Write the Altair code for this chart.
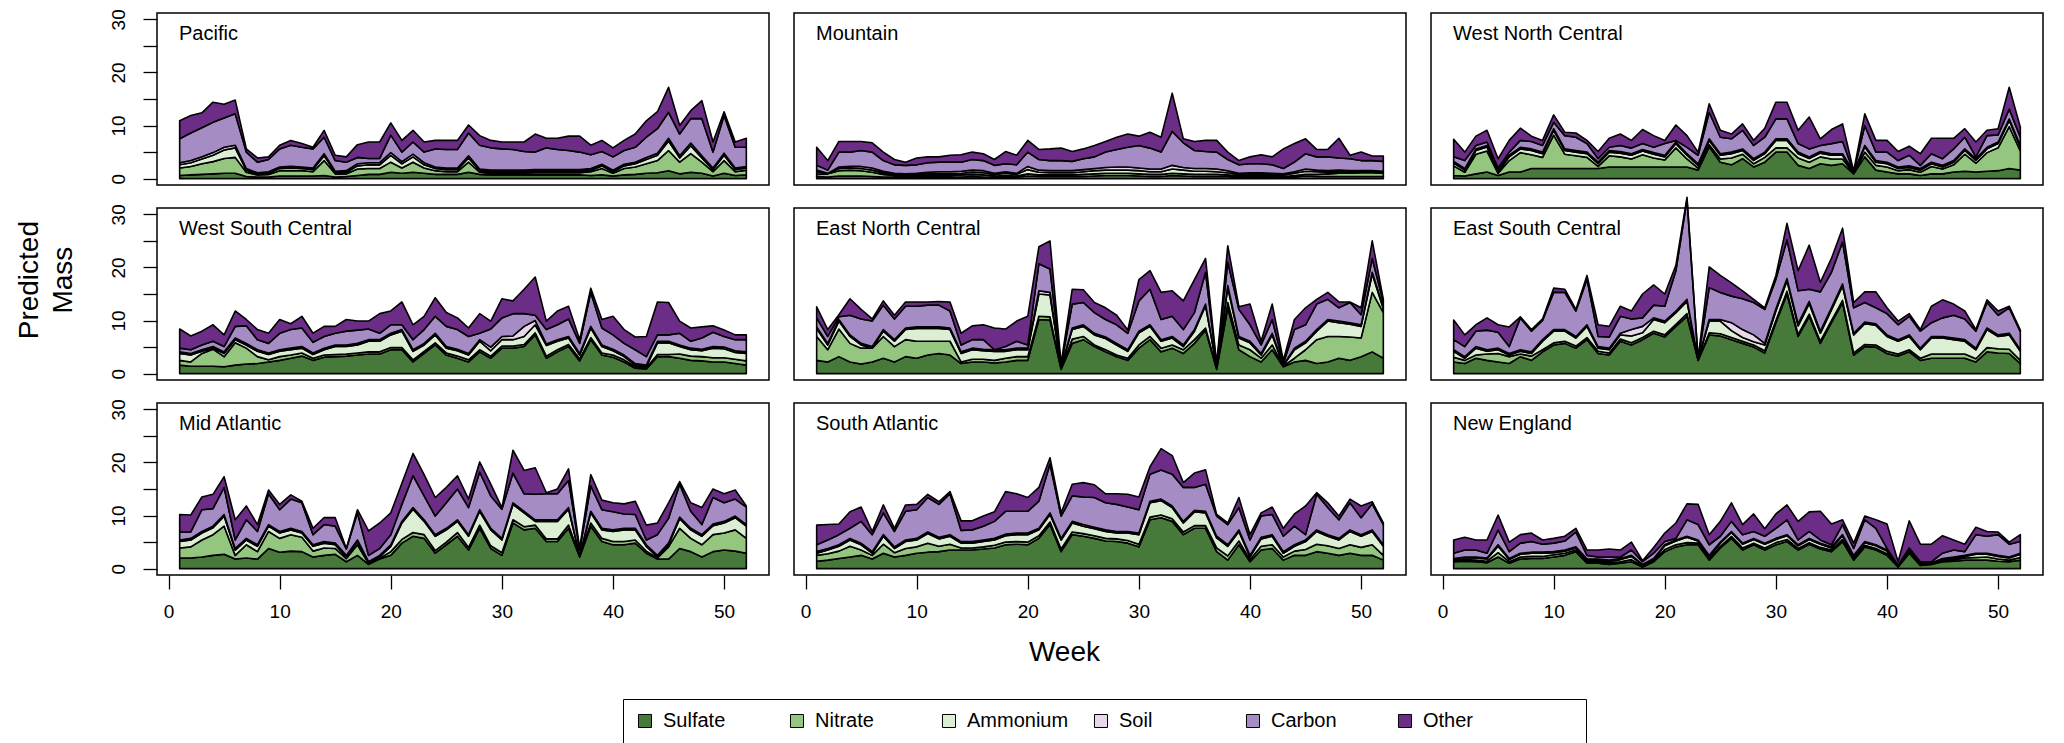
import altair as alt
import pandas as pd

REGIONS = ["Pacific", "Mountain", "West North Central",
           "West South Central", "East North Central", "East South Central",
           "Mid Atlantic", "South Atlantic", "New England"]
COMPONENTS = ["Sulfate", "Nitrate", "Ammonium", "Soil", "Carbon", "Other"]
COLORS = ["#477a3a", "#95c680", "#dcefd4", "#e8d7ea", "#a68cc4", "#6b2d86"]
WEEKS = list(range(1, 53))
X_TICKS = [0, 10, 20, 30, 40, 50]
Y_TICKS = [0, 5, 10, 15, 20, 25, 30]

# Cumulative stack levels (top edge of each layer).
SULFATE_TOP = {
    "Pacific": [0.6,0.7,0.8,0.9,1.0,1.0,0.4,0.3,0.3,0.5,0.5,0.5,0.5,
                0.6,0.3,0.4,0.6,0.8,0.8,1.2,1.0,1.2,1.0,0.8,0.8,0.8,
                1.2,0.8,0.7,0.7,0.7,0.7,0.7,0.7,0.7,0.7,0.7,0.6,0.7,
                0.5,0.7,0.8,1.0,1.1,1.5,0.9,1.2,1.0,0.5,1.0,0.6,0.7],
    "Mountain": [0.4,0.3,0.5,0.5,0.5,0.4,0.3,0.3,0.2,0.3,0.3,0.3,0.3,
                 0.3,0.4,0.3,0.2,0.3,0.3,0.5,0.4,0.4,0.4,0.4,0.4,0.5,
                 0.6,0.6,0.6,0.5,0.4,0.4,0.6,0.5,0.4,0.4,0.4,0.4,0.2,
                 0.3,0.3,0.3,0.2,0.3,0.5,0.4,0.4,0.4,0.4,0.4,0.4,0.4],
    "West North Central": [0.6,0.5,0.9,1.25,0.6,1.25,1.25,1.9,1.9,1.9,1.9,1.9,1.9,
                           1.9,2.2,2.2,2.2,2.2,2.2,2.2,2.2,2.2,1.6,6.0,3.1,2.6,
                           3.75,2.2,3.1,5.0,5.0,2.5,1.9,2.8,2.5,2.8,0.9,4.1,1.6,
                           1.25,0.9,0.9,0.6,0.9,0.9,1.25,1.4,1.25,1.4,1.5,1.9,1.6],
    "West South Central": [1.6,1.4,1.4,1.4,1.3,1.6,1.8,1.9,2.2,2.5,2.9,3.3,2.5,
                           3.1,3.2,3.3,3.5,3.7,3.7,4.5,4.5,2.2,3.8,5.4,3.5,2.9,
                           2.2,4.1,2.9,4.8,4.8,5.1,7.3,2.9,4.1,5.1,2.4,6.4,3.5,
                           3.1,2.2,1.0,0.9,3.2,3.2,2.9,2.5,2.4,2.2,2.2,1.9,1.6],
    "East North Central": [2.5,2.2,3.2,2.2,1.8,2.2,2.9,2.2,3.2,2.9,3.5,3.8,3.5,
                           1.9,2.2,2.2,2.0,2.2,2.5,2.5,10.2,10.1,0.8,5.7,6.4,5.1,
                           4.1,3.2,2.5,4.8,6.4,4.1,4.8,3.8,5.7,8.2,0.8,12.4,4.5,
                           3.2,2.2,4.5,1.3,2.2,2.5,1.9,2.2,2.9,2.5,3.2,4.1,2.9],
    "East South Central": [2.2,1.9,2.9,2.5,2.2,1.9,3.2,2.5,4.1,5.4,5.7,4.8,6.4,
                           3.8,3.5,6.1,5.4,6.4,7.6,6.9,8.9,10.8,2.5,7.3,7.1,6.4,
                           5.7,5.0,3.9,9.6,15.0,7.0,10.8,5.7,9.6,13.4,3.5,5.1,5.0,
                           3.8,3.3,4.1,2.5,2.9,2.9,2.9,2.9,2.2,4.1,3.9,3.8,1.9],
    "Mid Atlantic": [2.0,2.0,2.2,2.5,2.7,1.8,2.0,1.8,3.8,3.1,3.3,3.2,2.2,
                     2.5,2.7,1.3,2.5,0.8,1.8,2.5,4.8,6.1,5.7,2.9,4.5,6.1,
                     3.5,7.6,3.8,2.5,8.6,7.3,7.6,5.1,5.1,7.6,2.2,8.0,5.1,
                     4.5,4.5,4.8,2.9,1.8,1.8,3.8,3.2,2.2,3.2,3.5,3.3,2.9],
    "South Atlantic": [1.4,1.6,1.9,2.2,2.5,1.8,2.9,2.2,2.5,2.9,3.1,3.2,3.5,
                       3.5,3.5,3.7,3.9,4.5,4.6,4.5,5.7,8.3,3.2,6.4,6.1,5.7,
                       5.2,5.1,4.8,4.1,9.2,9.6,8.9,6.4,7.6,7.6,3.2,1.6,4.5,
                       1.3,3.5,3.8,1.6,2.5,2.5,3.2,2.9,2.5,2.9,2.5,2.5,1.6],
    "New England": [1.3,1.4,1.3,1.1,2.2,1.0,1.8,1.9,1.9,2.2,2.5,3.2,1.0,
                    1.0,0.8,1.0,1.3,0.3,1.3,3.2,4.1,4.5,4.5,1.6,3.9,5.7,
                    3.5,4.5,3.5,4.5,5.1,3.5,4.6,3.7,3.2,5.1,1.6,4.1,3.5,
                    2.5,0.3,2.9,0.6,0.8,1.3,1.4,1.6,1.6,1.6,1.4,1.3,1.6],
}

NITRATE_TOP = {
    "Pacific": [2.0,2.3,2.8,3.2,3.8,4.0,1.2,0.7,0.8,1.5,1.5,1.5,1.3,
                3.4,0.9,0.9,1.8,1.9,1.9,3.1,2.0,3.1,2.0,1.5,1.3,1.3,
                3.1,1.2,1.0,1.0,1.0,1.0,1.1,1.1,1.1,1.1,1.1,1.3,1.9,
                1.0,1.9,2.2,2.8,3.4,5.3,3.1,4.7,3.1,1.3,3.4,1.3,1.6],
    "Mountain": [0.8,0.9,1.5,1.6,1.5,1.2,0.8,0.6,0.5,0.6,0.6,0.6,0.6,
                 0.7,0.8,0.7,0.5,0.6,0.5,0.9,0.7,0.7,0.7,0.7,0.8,0.9,
                 1.0,1.0,1.0,0.9,0.8,0.8,1.0,0.9,0.8,0.8,0.8,0.7,0.5,
                 0.5,0.5,0.5,0.4,0.6,0.8,0.8,0.9,1.0,1.0,1.1,1.1,1.0],
    "West North Central": [2.4,1.2,4.6,5.2,1.0,3.4,4.9,4.5,4.0,8.2,4.6,4.3,4.0,
                           2.3,4.3,4.1,3.7,4.5,3.9,3.5,5.8,3.7,2.0,6.4,3.7,3.9,
                           4.6,2.8,4.0,5.8,5.8,3.9,3.1,4.1,3.7,3.7,1.0,5.0,2.5,
                           2.2,1.5,1.7,1.2,2.3,1.8,2.6,4.6,2.9,4.9,5.8,9.8,5.2],
    "West South Central": [2.5,2.2,3.8,4.6,3.2,5.8,4.8,3.2,2.6,3.2,3.5,3.9,2.9,
                           3.5,3.6,3.7,3.9,4.1,4.1,4.9,4.9,2.6,4.2,5.8,3.9,3.3,
                           2.6,4.5,3.3,5.2,5.2,5.5,7.7,3.3,4.5,5.5,2.8,6.8,3.9,
                           3.5,2.6,1.3,1.1,3.6,3.6,3.7,3.3,3.2,3.0,3.0,2.7,2.4],
    "East North Central": [7.0,4.5,8.4,5.7,4.8,4.8,7.0,5.1,6.4,6.1,6.1,6.1,6.1,
                           2.2,2.7,2.7,2.5,2.9,3.2,3.2,10.8,10.7,1.0,6.5,7.0,5.4,
                           4.5,3.5,2.9,5.4,7.0,4.8,5.4,4.5,6.4,8.6,1.1,13.4,5.4,
                           4.5,2.9,5.4,1.4,2.9,4.5,6.4,7.0,7.0,6.9,6.7,15.3,11.5],
    "East South Central": [3.1,2.5,3.5,3.7,3.8,3.2,3.7,3.3,4.5,5.8,6.1,5.2,6.8,
                           4.2,3.9,6.5,5.8,6.8,8.0,7.3,9.3,11.3,2.55,7.7,7.5,6.8,
                           6.1,5.4,4.3,10.0,15.5,7.4,11.2,6.1,10.0,13.8,3.9,5.5,5.4,
                           4.2,3.7,4.5,2.9,3.7,3.7,3.7,3.7,2.8,4.9,4.7,4.6,2.5],
    "Mid Atlantic": [3.9,4.1,5.4,6.4,8.0,2.5,4.5,3.2,7.0,5.7,6.4,5.9,3.3,
                     3.9,3.8,1.9,4.5,1.0,1.9,3.2,5.5,6.8,6.4,3.4,5.0,6.8,
                     4.0,8.2,4.3,3.0,9.2,7.9,8.2,5.6,5.6,8.2,2.4,8.6,5.7,
                     5.1,5.1,5.4,3.3,2.0,4.1,7.6,5.7,4.5,6.4,6.7,7.3,5.7],
    "South Atlantic": [2.5,2.8,3.3,4.2,3.5,2.5,4.6,3.0,3.8,4.1,4.8,4.2,4.6,
                       3.9,3.9,4.1,4.4,5.0,5.1,5.0,6.2,8.8,3.7,6.9,6.6,6.2,
                       5.7,5.6,5.3,4.6,9.7,10.1,9.4,6.9,8.1,8.1,3.9,2.4,5.2,
                       1.7,4.2,4.5,2.2,3.3,3.6,4.6,4.3,3.8,4.5,4.0,4.5,2.5],
    "New England": [1.5,1.7,1.6,1.4,3.0,1.3,2.2,2.3,2.3,2.6,2.9,3.5,1.3,
                    1.3,1.1,1.3,1.7,0.5,1.5,3.6,4.5,4.9,4.8,1.9,4.2,6.1,
                    3.9,4.8,3.9,4.9,5.5,3.8,4.9,4.0,3.5,5.5,1.9,4.4,3.8,
                    2.8,0.4,3.2,0.8,0.9,1.5,1.7,2.0,2.1,2.2,1.8,1.6,2.1],
}

AMMONIUM_TOP = {
    "Pacific": [2.6,3.0,3.7,4.4,5.4,5.8,1.6,0.9,1.1,1.9,2.0,1.9,1.7,
                4.3,1.2,1.2,2.4,2.6,2.6,4.4,2.8,4.1,2.6,1.9,1.7,1.7,
                3.9,1.5,1.3,1.3,1.3,1.3,1.4,1.4,1.4,1.4,1.4,1.6,2.4,
                1.3,2.4,2.8,3.6,4.4,7.1,3.9,6.2,3.9,1.7,4.4,1.7,2.0],
    "Mountain": [1.2,1.0,1.9,2.0,1.9,1.6,1.1,0.8,0.7,0.8,0.9,0.9,0.9,
                 1.0,1.2,1.1,0.8,1.0,0.8,1.7,1.2,1.1,1.1,1.1,1.3,1.5,
                 1.6,1.6,1.6,1.5,1.3,1.3,1.8,1.6,1.4,1.4,1.3,1.1,0.8,
                 0.8,0.8,0.8,0.7,1.0,1.4,1.3,1.2,1.3,1.2,1.3,1.3,1.2],
    "West North Central": [2.95,1.6,5.3,5.95,1.3,4.1,5.6,5.3,4.7,9.1,5.3,5.0,4.7,
                           2.8,5.0,4.8,4.4,5.2,4.6,4.1,6.6,4.4,2.5,7.2,4.4,4.7,
                           5.3,3.45,4.7,7.2,7.2,4.7,3.8,4.8,4.4,4.4,1.1,5.95,3.1,
                           2.8,1.9,2.1,1.6,2.8,2.2,3.1,5.3,3.45,5.6,6.6,10.95,5.95],
    "West South Central": [3.8,3.5,4.2,4.8,3.8,6.4,5.4,4.2,3.6,4.2,4.5,4.8,3.6,
                           4.5,5.1,5.1,5.4,6.1,6.1,7.3,8.0,4.2,5.4,7.3,4.8,4.3,
                           3.5,6.1,4.3,6.4,6.4,7.0,9.2,5.3,6.1,6.7,3.5,8.6,5.1,
                           4.3,3.2,1.6,1.3,5.8,5.8,5.1,4.5,4.3,4.8,4.7,4.0,3.8],
    "East North Central": [8.5,5.4,9.9,7.0,5.4,4.8,8.0,6.1,8.3,8.5,8.5,8.5,8.3,
                           3.8,4.5,4.3,4.2,4.2,4.5,4.5,15.0,14.8,1.2,8.3,8.9,7.3,
                           6.6,5.4,4.2,7.7,8.9,6.1,6.7,5.1,8.0,12.8,1.3,16.2,6.7,
                           5.8,3.5,7.3,1.5,4.5,5.8,8.0,9.9,9.6,9.3,8.9,18.8,12.2],
    "East South Central": [4.2,2.9,4.8,4.2,4.5,3.5,4.2,3.8,6.1,8.0,8.0,6.7,8.9,
                           4.8,4.5,7.3,7.1,7.7,10.2,9.6,11.5,13.6,2.6,9.9,9.9,8.1,
                           6.8,6.0,5.4,11.8,17.5,9.0,13.2,7.6,12.0,16.5,7.3,9.4,9.1,
                           7.0,6.1,7.0,4.5,6.7,6.7,6.4,6.1,4.5,8.3,7.0,7.3,4.2],
    "Mid Atlantic": [5.1,5.4,6.7,7.7,9.9,3.5,5.4,4.2,8.0,6.7,7.3,6.7,4.2,
                     4.8,4.5,2.2,5.1,1.1,2.2,4.2,8.6,11.2,8.9,6.1,7.3,8.9,
                     6.1,10.8,7.3,5.4,12.1,10.5,8.9,8.9,8.9,11.2,2.2,10.5,7.3,
                     7.0,7.3,7.3,4.2,2.2,4.5,9.4,7.3,6.1,8.1,8.6,9.6,8.0],
    "South Atlantic": [2.9,3.5,4.2,5.4,4.5,2.9,6.1,3.8,5.1,5.4,6.6,5.6,6.1,
                       4.8,4.8,5.1,5.4,6.2,6.4,6.4,7.3,10.2,5.4,8.6,8.0,7.5,
                       7.0,6.7,6.7,6.4,12.4,12.8,11.5,8.6,10.7,10.5,5.8,4.2,7.0,
                       2.2,5.6,6.1,2.9,4.2,5.1,7.0,6.1,5.4,7.0,6.1,7.0,4.2],
    "New England": [1.7,2.0,2.0,1.8,4.2,1.7,2.7,2.9,2.9,3.0,3.3,3.9,1.6,
                    1.6,1.4,1.7,2.3,0.7,1.7,4.3,5.2,5.9,5.2,2.3,4.8,6.8,
                    4.6,5.5,4.6,5.5,6.2,4.3,5.5,4.6,3.9,6.2,2.3,4.9,4.3,
                    3.3,0.5,3.6,0.9,1.0,1.7,2.0,2.3,2.7,2.7,2.3,2.0,2.7],
}

SOIL_TOP = {
    "Pacific": [3.0,3.4,4.1,4.9,5.9,6.3,1.9,1.1,1.3,2.2,2.3,2.2,2.0,
                4.7,1.4,1.5,2.8,3.0,3.0,4.9,3.2,4.6,3.0,2.2,2.0,2.0,
                4.3,1.8,1.6,1.6,1.6,1.6,1.7,1.7,1.7,1.7,1.7,1.9,2.7,
                1.6,2.7,3.1,4.0,4.8,7.6,4.3,6.7,4.3,2.0,4.8,2.0,2.3],
    "Mountain": [1.6,1.0,2.2,2.3,2.3,2.0,1.4,1.0,0.9,1.0,1.2,1.3,1.3,
                 1.4,1.6,1.5,1.0,1.3,1.0,2.3,1.6,1.5,1.5,1.5,1.7,1.9,
                 2.1,2.2,2.2,2.0,1.8,1.8,2.5,2.1,1.9,1.9,1.8,1.5,1.0,
                 1.1,1.1,1.0,0.9,1.3,1.8,1.6,1.5,1.6,1.5,1.5,1.5,1.4],
    "West North Central": [3.25,1.9,5.6,6.25,1.6,4.4,5.9,5.6,5.0,9.4,5.6,5.3,5.0,
                           3.1,5.3,5.1,4.7,5.5,4.9,4.4,6.9,4.7,2.8,7.5,4.7,5.0,
                           5.6,3.75,5.0,7.5,7.5,5.0,4.1,5.1,4.7,4.7,1.25,6.25,3.4,
                           3.1,2.2,2.4,1.9,3.1,2.5,3.4,5.6,3.75,5.9,6.9,11.25,6.25],
    "West South Central": [4.1,3.8,4.5,5.1,4.1,6.7,5.7,4.5,3.9,4.5,4.8,5.1,3.9,
                           4.8,5.4,5.4,5.7,6.4,6.4,7.6,8.3,4.5,5.7,7.6,5.1,4.6,
                           3.8,6.4,5.0,7.0,7.1,8.9,10.0,5.6,6.4,7.0,3.8,8.9,5.4,
                           4.6,3.5,1.9,1.6,6.1,6.1,5.4,4.8,4.6,5.1,5.0,4.3,4.1],
    "East North Central": [8.8,5.7,10.2,7.3,5.7,5.1,8.3,6.4,8.6,8.8,8.8,8.8,8.6,
                           4.1,4.8,4.6,4.5,4.5,4.8,4.8,15.6,15.3,1.3,8.6,9.2,7.6,
                           6.9,5.7,4.5,8.0,9.2,6.4,7.0,5.4,8.3,13.1,1.4,16.6,7.0,
                           6.1,3.8,7.6,1.6,4.8,6.1,8.3,10.2,9.9,9.6,9.2,19.1,12.5],
    "East South Central": [4.5,3.2,5.1,4.5,4.8,3.8,4.5,4.1,6.4,8.3,8.3,7.0,9.2,
                           5.1,4.8,7.6,8.3,8.9,10.5,9.9,11.8,14.0,2.7,10.2,10.2,9.6,
                           8.3,7.3,5.7,12.2,17.9,9.4,13.6,8.0,12.4,16.9,7.6,9.7,9.4,
                           7.3,6.4,7.3,4.8,7.0,7.0,6.7,6.4,4.8,8.6,7.3,7.6,4.5],
    "Mid Atlantic": [5.4,5.7,7.0,8.0,10.2,3.8,5.7,4.5,8.3,7.0,7.6,7.0,4.5,
                     5.1,4.8,2.5,5.4,1.3,2.5,4.5,8.9,11.5,9.2,6.4,7.6,9.2,
                     6.4,11.1,7.6,5.7,12.4,10.8,9.2,9.2,9.2,11.5,2.5,10.8,7.6,
                     7.3,7.6,7.6,4.5,2.5,4.8,9.7,7.6,6.4,8.4,8.9,9.9,8.3],
    "South Atlantic": [3.2,3.8,4.5,5.7,4.8,3.2,6.4,4.1,5.4,5.7,6.9,5.9,6.4,
                       5.1,5.1,5.4,5.7,6.5,6.7,6.7,7.6,10.5,5.7,8.9,8.3,7.8,
                       7.3,7.0,7.0,6.7,12.7,13.1,11.8,8.9,11.0,10.8,6.1,4.5,7.3,
                       2.5,5.9,6.4,3.2,4.5,5.4,7.3,6.4,5.7,7.3,6.4,7.3,4.5],
    "New England": [1.9,2.2,2.2,2.0,4.5,1.9,2.9,3.1,3.1,3.2,3.5,4.1,1.8,
                    1.8,1.6,1.9,2.5,0.8,1.9,4.5,5.4,6.1,5.4,2.5,5.0,7.0,
                    4.8,5.7,4.8,5.7,6.4,4.5,5.7,4.8,4.1,6.4,2.5,5.1,4.5,
                    3.5,0.6,3.8,1.0,1.1,1.9,2.2,2.5,2.9,2.9,2.5,2.2,2.9],
}

CARBON_TOP = {
    "Pacific": [7.5,8.6,9.6,10.6,11.4,12.2,5.0,3.1,3.6,5.6,6.3,5.9,5.6,
                7.8,3.4,3.1,4.0,3.8,3.8,8.2,5.0,6.9,5.0,5.6,5.5,5.5,
                8.6,6.3,5.8,5.6,5.5,5.1,5.0,5.8,5.5,5.3,5.0,4.5,5.1,
                4.1,5.3,5.9,7.8,9.4,12.5,8.4,11.3,11.3,5.0,11.9,5.9,5.9],
    "Mountain": [2.5,1.6,5.0,5.0,5.3,5.0,3.4,2.6,2.5,2.6,3.0,3.1,3.1,
                 3.1,3.6,3.4,2.5,2.8,2.6,5.0,3.6,3.4,3.4,3.25,3.75,4.1,
                 5.0,5.5,5.9,6.25,5.75,5.0,8.9,6.75,5.3,5.1,5.0,3.6,2.6,
                 2.8,2.8,2.6,1.9,3.1,4.7,4.1,4.1,3.9,3.75,3.4,3.4,3.25],
    "West North Central": [4.1,3.4,6.25,6.9,2.0,5.0,7.2,7.0,6.25,10.6,8.1,7.8,6.6,
                           3.75,5.9,6.25,5.75,6.6,5.9,6.6,7.2,5.9,4.4,12.5,7.8,7.5,
                           9.1,6.25,7.8,11.25,11.25,6.6,5.6,6.25,6.6,7.0,1.25,10.0,5.0,
                           5.0,3.4,4.4,2.5,4.7,3.75,5.6,7.8,4.1,8.1,8.25,13.1,7.8],
    "West South Central": [4.8,4.5,5.4,6.1,5.1,8.9,9.0,6.4,5.7,7.6,8.3,8.6,5.9,
                           7.0,7.6,8.0,8.2,8.4,7.6,9.2,9.2,6.4,8.3,10.8,8.9,8.3,
                           7.0,7.6,8.4,10.5,11.3,11.3,11.0,8.3,9.2,10.3,5.7,15.3,8.6,
                           7.3,5.7,4.5,3.2,7.3,7.3,7.6,6.1,6.7,7.8,7.0,6.4,6.4],
    "East North Central": [10.5,7.0,10.7,11.0,10.3,9.9,12.9,10.3,12.7,12.7,12.9,12.9,11.8,
                           5.4,6.4,6.4,4.5,5.1,6.1,5.4,20.7,19.7,1.6,13.1,13.4,11.5,
                           10.2,9.2,7.6,13.7,15.9,10.2,10.8,8.3,11.5,19.1,1.6,21.0,12.1,
                           9.2,5.4,10.2,1.9,8.3,9.2,13.1,14.0,12.4,13.4,11.1,21.7,13.5],
    "East South Central": [6.4,5.1,8.0,8.2,7.8,5.1,10.5,8.0,10.0,15.3,15.3,11.8,17.8,
                           7.0,6.9,10.8,10.3,10.5,12.9,12.7,19.4,32.8,2.7,16.2,15.3,14.6,
                           14.1,13.4,12.1,17.8,25.2,15.6,15.9,15.4,19.1,24.8,12.4,13.4,12.4,
                           11.3,9.2,10.8,8.0,9.6,10.5,11.0,10.3,8.0,13.4,11.0,12.4,7.9],
    "Mid Atlantic": [6.9,6.9,11.1,11.3,15.3,5.4,9.2,7.0,14.1,11.1,13.1,12.4,6.4,
                     8.3,8.0,3.7,10.5,2.5,3.8,6.4,12.1,17.5,13.7,9.9,12.4,15.0,
                     11.5,18.2,13.7,11.2,18.0,14.1,14.0,14.1,14.1,16.6,3.5,15.6,11.1,
                     10.7,10.3,10.2,5.4,6.4,9.5,15.9,10.8,8.3,13.4,12.4,13.1,11.6],
    "South Atlantic": [4.5,5.4,6.4,7.6,8.9,6.4,10.5,7.0,10.8,11.1,13.4,12.1,14.1,
                       7.2,7.3,8.0,8.9,10.8,10.8,10.8,12.7,19.7,9.9,13.7,13.5,13.4,
                       12.4,12.1,11.6,11.1,17.8,18.6,17.8,15.3,15.3,15.9,9.9,8.3,11.5,
                       5.4,9.9,10.2,6.1,8.0,6.4,14.0,11.5,9.2,12.4,9.6,12.2,8.3],
    "New England": [2.9,3.5,3.5,2.9,7.3,3.2,4.8,5.1,4.6,4.8,5.2,6.9,2.5,
                    2.2,2.2,2.2,3.5,1.3,2.9,5.1,5.7,9.2,8.3,4.5,6.1,8.9,
                    6.4,7.0,6.1,7.6,9.2,5.4,7.0,5.4,4.5,8.3,3.8,9.2,7.6,
                    3.8,0.6,3.9,1.3,1.3,2.9,3.5,3.2,6.4,6.1,6.4,4.6,5.1],
}

TOTAL = {
    "Pacific": [10.9,11.9,12.4,14.4,14.0,14.8,5.6,3.9,4.1,6.3,7.2,6.6,5.9,
                9.1,4.4,4.1,6.4,6.9,6.9,10.5,7.2,9.1,6.9,7.2,7.2,7.2,
                10.1,8.1,7.2,6.9,6.9,6.9,8.4,7.6,7.6,8.0,8.0,6.3,7.2,
                5.8,7.2,8.4,10.9,12.6,17.2,10.0,12.8,14.7,6.9,12.6,6.9,7.6],
    "Mountain": [5.9,3.4,7.0,7.0,7.0,6.75,5.0,3.6,3.1,3.9,4.1,4.1,4.4,
                 4.5,5.0,4.7,3.6,5.1,4.4,7.2,5.5,5.6,5.75,5.1,5.6,6.25,
                 7.0,7.8,8.4,8.0,8.75,7.8,16.1,7.5,7.0,7.2,7.2,5.0,3.4,
                 4.1,4.5,4.1,5.6,6.6,7.5,5.5,5.5,7.6,4.4,5.0,4.25,4.25],
    "West North Central": [7.4,5.0,8.0,9.1,3.75,7.2,9.5,8.0,7.2,12.0,8.75,8.6,7.2,
                           5.1,7.6,8.4,7.2,9.25,8.1,7.2,10.1,8.1,5.0,14.1,9.1,8.4,
                           10.3,7.2,9.5,14.4,14.4,9.1,11.6,7.5,9.25,10.3,1.4,12.2,7.2,
                           7.2,5.1,6.1,4.7,7.6,7.6,7.6,9.4,6.9,9.1,9.4,17.2,9.7],
    "West South Central": [8.4,7.1,8.0,9.2,7.3,11.8,10.2,8.3,7.6,10.2,9.4,10.8,7.6,
                           8.9,8.9,10.2,9.9,9.9,11.3,11.8,13.5,9.2,10.8,14.3,11.5,10.5,
                           8.6,11.3,9.9,14.1,13.7,15.9,18.2,9.9,11.8,12.7,6.4,16.1,10.2,
                           10.8,8.3,6.9,7.0,13.5,13.4,9.9,8.6,8.8,9.0,8.2,7.3,7.3],
    "East North Central": [12.6,8.3,11.1,14.1,12.1,10.3,13.7,11.0,13.5,13.5,13.5,13.6,13.5,
                           7.6,9.0,9.2,8.6,8.4,9.9,10.8,23.9,25.0,1.9,15.9,15.8,13.4,
                           12.4,11.0,8.2,17.7,19.4,15.3,15.6,13.7,17.7,21.7,1.9,24.1,12.6,
                           13.1,6.1,13.1,2.5,10.2,12.4,14.0,15.3,13.5,13.5,12.4,25.0,14.0],
    "East South Central": [10.1,7.3,9.2,10.5,9.2,8.8,10.7,8.3,10.3,16.1,15.9,12.1,18.5,
                           9.2,8.9,12.7,11.8,15.0,16.7,15.0,20.4,33.2,2.9,20.1,18.5,17.1,
                           15.6,14.0,12.4,18.5,28.3,19.4,24.2,17.2,21.7,27.4,13.4,15.4,15.4,
                           12.4,9.9,11.3,8.3,12.7,13.9,13.1,11.8,8.3,13.9,11.8,12.7,8.2],
    "Mid Atlantic": [10.2,10.1,13.5,14.0,17.3,9.2,11.8,8.3,14.8,12.1,13.9,12.7,7.6,
                     9.6,9.6,3.8,11.1,7.1,8.6,10.5,16.1,21.7,17.7,13.4,15.3,17.5,
                     13.1,20.1,15.9,11.5,22.3,18.5,19.0,14.3,15.0,18.8,3.8,17.7,12.9,
                     12.4,12.2,12.7,8.2,8.6,12.4,16.4,12.4,11.5,15.0,14.1,14.8,11.8],
    "South Atlantic": [8.2,8.3,8.4,10.7,11.6,7.0,12.0,7.6,12.0,12.1,14.0,12.6,14.5,
                       9.0,9.0,9.9,10.7,14.5,14.1,13.4,15.3,20.9,10.5,15.9,16.2,15.8,
                       14.1,14.1,14.0,13.5,19.2,22.6,21.3,16.2,18.0,18.6,10.2,8.6,13.4,
                       6.4,10.5,11.6,7.6,10.3,11.8,14.3,12.4,9.9,13.1,11.8,12.6,8.6],
    "New England": [5.4,5.9,5.4,5.4,10.1,5.0,6.4,6.7,5.4,5.7,6.1,7.6,3.5,
                    3.5,3.7,3.5,5.0,1.5,4.0,6.7,8.6,12.2,12.1,6.4,8.9,12.4,
                    8.3,10.3,7.5,10.3,12.0,8.9,10.7,10.8,8.4,9.2,4.8,9.9,9.2,
                    8.4,1.3,9.0,4.6,4.6,6.2,5.4,4.6,7.8,7.0,6.9,5.0,6.4],
}

LEVELS = [SULFATE_TOP, NITRATE_TOP, AMMONIUM_TOP, SOIL_TOP, CARBON_TOP, TOTAL]

bad = [(n, r, len(d[r])) for n, d in enumerate(LEVELS) for r in REGIONS if len(d[r]) != 52]
if bad:
    raise SystemExit(f"bad lengths: {bad}")

records = []
for ri, region in enumerate(REGIONS):
    for wi, week in enumerate(WEEKS):
        prev = 0.0
        for ci, comp in enumerate(COMPONENTS):
            top = max(LEVELS[ci][region][wi], prev)
            records.append({
                "region": region, "prow": ri // 3, "pcol": ri % 3,
                "week": week, "component": comp, "order": ci,
                "value": round(top - prev, 3),
            })
            prev = top
df = pd.DataFrame(records)

FONT = "Liberation Sans"

area = alt.Chart().mark_area(
    stroke="black", strokeWidth=1.6, strokeJoin="round", opacity=1, clip=False
).encode(
    x=alt.X("week:Q",
            scale=alt.Scale(domain=[-1.04, 54.04], nice=False, zero=False),
            axis=alt.Axis(values=X_TICKS, title=None, grid=False, domain=False,
                          tickSize=14, tickWidth=1.3, tickColor="black",
                          labelPadding=13, labelFontSize=19, labelFont=FONT,
                          labelColor="black", labelFlush=False)),
    y=alt.Y("value:Q", stack="zero",
            scale=alt.Scale(domain=[-1.2, 31.2], nice=False, zero=False),
            axis=alt.Axis(values=Y_TICKS, title=None, grid=False, domain=False,
                          labelExpr="datum.value % 10 == 0 ? datum.label : ''",
                          labelAngle=270, labelAlign="center", labelBaseline="bottom",
                          tickSize=14, tickWidth=1.3, tickColor="black",
                          labelPadding=15, labelFontSize=19, labelFont=FONT,
                          labelColor="black", labelFlush=False)),
    color=alt.Color("component:N",
                    scale=alt.Scale(domain=COMPONENTS, range=COLORS),
                    legend=alt.Legend(
                        title="\u00a0", titleOrient="right", titlePadding=101,
                        titleFontSize=12,
                        orient="none", legendX=466, legendY=686,
                        direction="horizontal", columns=6, gridAlign="all",
                        symbolType="square", symbolSize=170,
                        symbolStrokeColor="black", symbolStrokeWidth=1,
                        symbolOpacity=1,
                        labelFontSize=20, labelFont=FONT, labelColor="black",
                        labelOffset=8, columnPadding=22, padding=12,
                        strokeColor="black", fillColor="white")),
    order=alt.Order("order:Q"),
)

label = alt.Chart().transform_filter(
    "datum.week == 1 && datum.component == 'Sulfate'"
).mark_text(
    align="left", baseline="middle", fontSize=20, font=FONT, color="black"
).encode(
    x=alt.value(22), y=alt.value(21), text="region:N"
)

chart = alt.layer(area, label, data=df).properties(
    width=612, height=172
).facet(
    row=alt.Row("prow:O", title=None, header=alt.Header(labels=False)),
    column=alt.Column("pcol:O", title="Week",
                      header=alt.Header(labels=False, titleOrient="bottom",
                                        titleFontSize=28, titleFont=FONT,
                                        titleColor="black", titleFontWeight="normal",
                                        titlePadding=8, titleAlign="right")),
    spacing={"row": 23, "column": 25},
    bounds="flush",
).properties(
    title=alt.TitleParams(text=["Predicted", "Mass"], orient="left", anchor="middle",
                          fontSize=28, font=FONT, fontWeight="normal", color="black",
                          lineHeight=34, offset=31, dx=96),
).configure_view(
    stroke="black", strokeWidth=1.5
).properties(
    padding={"top": 0, "left": 8, "right": 0, "bottom": 0}
)

chart.save("out.html", embed_options={"renderer": "svg", "actions": False})
